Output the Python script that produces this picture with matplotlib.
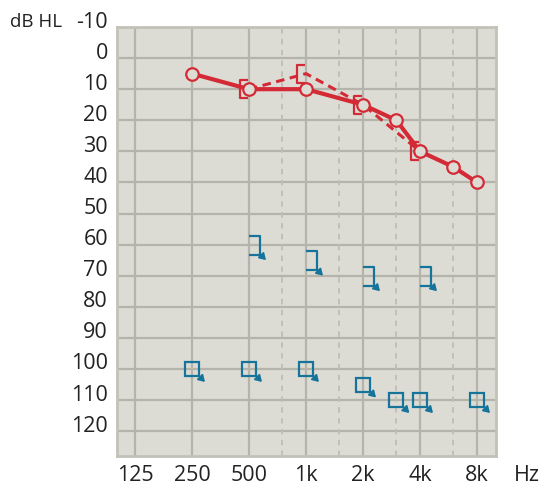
import matplotlib
matplotlib.use('Agg')
import matplotlib.pyplot as plt
from matplotlib.path import Path
from matplotlib.transforms import offset_copy, blended_transform_factory, ScaledTranslation

plt.rcParams['font.family'] = ['Open Sans', 'DejaVu Sans']

# ---- data ----
freq_ticks = [125, 250, 500, 1000, 2000, 4000, 8000]
freq_labels = ['125', '250', '500', '1k', '2k', '4k', '8k']
inter_freqs = [750, 1500, 3000, 6000]
db_ticks = list(range(-10, 121, 10))

right_air_f = [250, 500, 1000, 2000, 3000, 4000, 6000, 8000]
right_air_db = [5, 10, 10, 15, 20, 30, 35, 40]

right_bone_f = [500, 1000, 2000, 4000]
right_bone_db = [10, 5, 15, 30]

left_bone_nr_f = [500, 1000, 2000, 4000]
left_bone_nr_db = [60, 65, 70, 70]

left_air_nr_f = [250, 500, 1000, 2000, 3000, 4000, 8000]
left_air_nr_db = [100, 100, 100, 105, 110, 110, 110]

# ---- style ----
BG = '#dcdcd5'
GRID = '#b4b4aa'
GRID_D = '#bebeb5'
RED = '#d42a36'
BLUE = '#16739a'
TXT = '#222222'

W, H = 544, 488
fig = plt.figure(figsize=(W / 100, H / 100), dpi=100)
ax = fig.add_axes([117 / W, 1 - 456 / H, (496 - 117) / W, (456 - 27) / H])
ax.set_facecolor(BG)
ax.set_xscale('log', base=2)
ax.set_xlim(125 * 2 ** (-18 / 57), 8000 * 2 ** (19 / 57))
ax.set_ylim(128, -10)
ax.set_xticks([])
ax.set_yticks([])
ax.minorticks_off()
for s in ax.spines.values():
    s.set_color('#c2c2b9')
    s.set_linewidth(2)

# grid
for v in db_ticks:
    ax.axhline(v, color=GRID, lw=1.6, zorder=1)
for f in freq_ticks:
    ax.axvline(f, color=GRID, lw=1.6, zorder=1)
for f in inter_freqs:
    ax.axvline(f, color=GRID_D, lw=1.3, ls=(0, (3, 3)), zorder=1)

# right ear bone conduction (masked) - dashed with "[" brackets
bracket_l = Path([(-1, 9), (-9, 9), (-9, -9), (-1, -9)],
                 [Path.MOVETO, Path.LINETO, Path.LINETO, Path.LINETO])
ax.plot(right_bone_f, right_bone_db, color=RED, lw=2.2, ls=(0, (2.8, 1.8)), zorder=3)
ax.plot(right_bone_f, right_bone_db, ls='none', marker=bracket_l, ms=12.96,
        mfc='none', mec=RED, mew=1.6, zorder=4)

# right ear air conduction - solid with circles
ax.plot(right_air_f, right_air_db, color=RED, lw=3.0, zorder=5)
ax.plot(right_air_f, right_air_db, ls='none', marker='o', ms=9.0,
        mfc=BG, mec=RED, mew=1.6, zorder=6)

# left ear bone conduction no response "]" with arrow
bracket_r = Path([(0, 9.5), (11, 9.5), (11, -9.5), (0, -9.5)],
                 [Path.MOVETO, Path.LINETO, Path.LINETO, Path.LINETO])
ax.plot(left_bone_nr_f, left_bone_nr_db, ls='none', marker=bracket_r, ms=15.84,
        mfc='none', mec=BLUE, mew=1.6, zorder=4)


def arrow(f, v, sx, sy, ex, ey):
    ax.annotate('', xy=(f, v), xytext=(f, v),
                xycoords=offset_copy(ax.transData, fig=fig, x=ex, y=ey, units='dots'),
                textcoords=offset_copy(ax.transData, fig=fig, x=sx, y=sy, units='dots'),
                arrowprops=dict(arrowstyle='-|>,head_length=0.4,head_width=0.25',
                                color=BLUE, lw=1.4, shrinkA=0, shrinkB=0,
                                mutation_scale=9), zorder=4)


for f, v in zip(left_bone_nr_f, left_bone_nr_db):
    arrow(f, v, 11, -9.5, 17, -15.5)

# left ear air conduction masked no response: squares with arrow
ax.plot(left_air_nr_f, left_air_nr_db, ls='none', marker='s', ms=10.2,
        mfc='none', mec=BLUE, mew=1.6, zorder=4)
for f, v in zip(left_air_nr_f, left_air_nr_db):
    arrow(f, v, 7, -7, 13, -13)

# y labels
ytr = blended_transform_factory(ax.transAxes, ax.transData) + \
    ScaledTranslation(-9 / 100, 5 / 100, fig.dpi_scale_trans)
for v in db_ticks:
    ax.text(0, v, str(v), transform=ytr, ha='right', va='center',
            fontsize=15.5, color=TXT)

# x labels
xtr = blended_transform_factory(ax.transData, fig.transFigure)
for f, lab in zip(freq_ticks, freq_labels):
    ax.text(f, 1 - 475.5 / H, lab, transform=xtr,
            ha='center', va='center', fontsize=15.5, color=TXT)
fig.text(527 / W, 1 - 475.5 / H, 'Hz', ha='center', va='center', fontsize=15.5, color=TXT)
fig.text(36 / W, 1 - 22 / H, 'dB HL', ha='center', va='center', fontsize=13.5, color=TXT)

fig.savefig('out.png', dpi=100)
